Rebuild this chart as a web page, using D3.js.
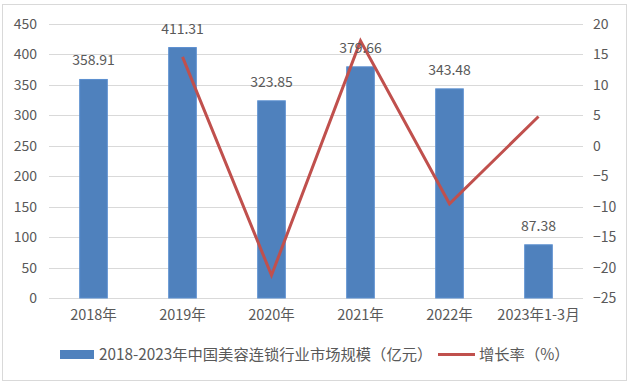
<!DOCTYPE html>
<html><head><meta charset="utf-8">
<script src="https://cdn.jsdelivr.net/npm/d3@7"></script>
<style>body{margin:0;background:#fff}svg{display:block}text{font-family:"Noto Sans CJK SC","Noto Sans",sans-serif;fill:#595959}</style>
</head><body><svg id="c" width="632" height="386"></svg>
<script>
const categories = ["2018年","2019年","2020年","2021年","2022年","2023年1-3月"];
const marketSize = [358.91, 411.31, 323.85, 379.66, 343.48, 87.38];
const growthRate = [null, 14.6, -21.26, 17.23, -9.53, 4.8];
const leftTicks = [0,50,100,150,200,250,300,350,400,450];
const rightTicks = [-25,-20,-15,-10,-5,0,5,10,15,20];
const seriesNames = ["2018-2023年中国美容连锁行业市场规模（亿元）","增长率（%）"];

const svg = d3.select("#c");
svg.append("rect").attr("x",2.5).attr("y",4.5).attr("width",624).attr("height",376)
  .attr("fill","#fff").attr("stroke","#d9d9d9");

const L=49, R=583, T=24, B=298;
const x = d3.scaleBand().domain(categories).range([L,R]).paddingInner(0.69).paddingOuter(0.345);
const yL = d3.scaleLinear().domain([0,450]).range([B,T]);
const yR = d3.scaleLinear().domain([-25,20]).range([B,T]);

svg.append("g").selectAll("line").data(leftTicks).join("line")
  .attr("x1",L).attr("x2",R).attr("y1",d=>Math.round(yL(d))+0.5).attr("y2",d=>Math.round(yL(d))+0.5)
  .attr("stroke","#d9d9d9").attr("stroke-width",1);

const ga = svg.append("g").attr("transform",`translate(${L},0)`)
  .call(d3.axisLeft(yL).tickValues(leftTicks).tickSize(0).tickPadding(12));
ga.select(".domain").remove();
ga.selectAll("text").style("font-size","14px").attr("fill","#595959");

const gr = svg.append("g").attr("transform",`translate(${R},0)`)
  .call(d3.axisRight(yR).tickValues(rightTicks).tickSize(0).tickPadding(10));
gr.select(".domain").remove();
gr.selectAll("text").style("font-size","14px").attr("fill","#595959");

const gx = svg.append("g").attr("transform",`translate(0,${B})`)
  .call(d3.axisBottom(x).tickSize(0).tickPadding(12));
gx.select(".domain").remove();
gx.selectAll("text").style("font-size","14.5px").attr("fill","#595959");

svg.append("g").selectAll("rect").data(marketSize).join("rect")
  .attr("x",(d,i)=>x(categories[i])).attr("width",x.bandwidth())
  .attr("y",d=>yL(d)).attr("height",d=>B-yL(d))
  .attr("fill","#4f81bd").attr("stroke","#5b8fd0").attr("stroke-width",1);

const pts = growthRate.map((v,i)=>({v,c:categories[i]})).filter(p=>p.v!==null);
const line = d3.line().x(p=>x(p.c)+x.bandwidth()/2).y(p=>yR(p.v));
svg.append("path").datum(pts).attr("d",line).attr("fill","none")
  .attr("stroke","#c0504d").attr("stroke-width",3).attr("stroke-linejoin","miter");

svg.append("g").selectAll("text").data(marketSize).join("text")
  .attr("x",(d,i)=>x(categories[i])+x.bandwidth()/2).attr("y",d=>yL(d)-14)
  .attr("text-anchor","middle").style("font-size","14px").attr("fill","#404040")
  .text(d=>d.toFixed(2));

const lg = svg.append("g");
lg.append("rect").attr("x",60).attr("y",350).attr("width",34).attr("height",9).attr("fill","#4f81bd");
lg.append("text").attr("x",99).attr("y",360).style("font-size","15.3px").attr("fill","#595959").text(seriesNames[0]);
lg.append("line").attr("x1",438).attr("x2",475).attr("y1",354.5).attr("y2",354.5).attr("stroke","#c0504d").attr("stroke-width",3);
lg.append("text").attr("x",479).attr("y",360).style("font-size","15.3px").attr("fill","#595959").text(seriesNames[1]);
</script></body></html>
